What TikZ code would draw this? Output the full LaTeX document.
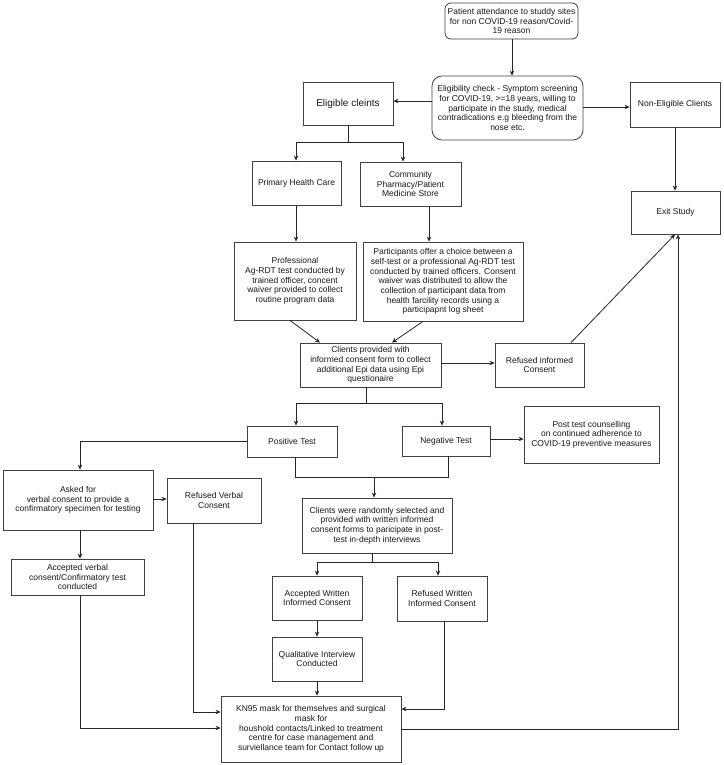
\documentclass[tikz,border=0pt]{standalone}
\usepackage{fontspec}
\setmainfont{Liberation Sans}
\usetikzlibrary{arrows.meta}
\begin{document}
\begin{tikzpicture}[x=1pt,y=-1pt,
  box/.style={draw=black!75, line width=0.8pt, fill=white, inner sep=1pt, align=center,
    font=\fontsize{8.5}{9.7}\selectfont, text=black!90},
  arr/.style={-{Stealth[length=5pt,width=4.5pt]}, line width=0.8pt, draw=black!85},
  ln/.style={line width=0.8pt, draw=black!85}]
\useasboundingbox[fill=white] (0,0) rectangle (723,765);

\node[box, rounded corners=6pt, minimum width=133pt, minimum height=36pt] (top) at (511.5,21)
  {Patient attendance to studdy sites\\for non COVID-19 reason/Covid-\\19 reason};
\node[box, rounded corners=10pt, minimum width=151pt, minimum height=64pt] (elig) at (507.5,108)
  {Eligibility check - Symptom screening\\for COVID-19, >=18 years, willing to\\participate in the study, medical\\contradications e.g bleeding from the\\nose etc.};
\node[box, font=\fontsize{10}{12}\selectfont, minimum width=90pt, minimum height=43pt] (elc) at (348,103.5) {Eligible cleints};
\node[box, minimum width=90pt, minimum height=45pt] (nonel) at (675,104.5) {Non-Eligible Clients};
\node[box, minimum width=89pt, minimum height=43pt] (exit) at (675.5,212.5) {Exit Study};
\node[box, minimum width=89pt, minimum height=44pt] (phc) at (296.5,183) {Primary Health Care};
\node[box, minimum width=101pt, minimum height=44pt] (cp) at (410.5,184) {Community\\Pharmacy/Patient\\Medicine Store};
\node[box, minimum width=122pt, minimum height=78pt] (prof) at (295,281)
  {Professional\\Ag-RDT test conducted by\\trained officer, concent\\waiver provided to collect\\routine program data};
\node[box, minimum width=160pt, minimum height=79pt] (part) at (443,281.5)
  {Participants offer a choice between a\\self-test or a professional Ag-RDT test\\conducted by trained officers. Consent\\waiver was distributed to allow the\\collection of participant data from\\health farcility records using a\\participapnt log sheet};
\node[box, minimum width=141pt, minimum height=44pt] (cpw) at (370.5,365)
  {Clients provided with\\informed consent form to collect\\additional Epi data using Epi\\questionaire};
\node[box, minimum width=89pt, minimum height=44pt] (refinf) at (539.5,365) {Refused informed\\Consent};
\node[box, minimum width=90pt, minimum height=31pt] (pos) at (292,441.5) {Positive Test};
\node[box, minimum width=88pt, minimum height=30pt] (neg) at (446,441) {Negative Test};
\node[box, minimum width=135pt, minimum height=57pt] (post) at (591.5,434.5)
  {Post test counselling\\on continued adherence to\\COVID-19 preventive measures};
\node[box, minimum width=150pt, minimum height=60pt] (asked) at (78,500)
  {Asked for\\verbal consent to provide a\\confirmatory specimen for testing};
\node[box, minimum width=94pt, minimum height=45pt] (refv) at (214,500.5) {Refused Verbal\\Consent};
\node[box, minimum width=150pt, minimum height=55pt] (crs) at (377,525.5)
  {Clients were randomly selected and\\provided with written informed\\consent forms to paricipate in post-\\test in-depth interviews};
\node[box, minimum width=133pt, minimum height=36pt] (accv) at (77.5,577)
  {Accepted verbal\\consent/Confirmatory test\\conducted};
\node[box, minimum width=90pt, minimum height=44pt] (accw) at (317,598) {Accepted Written\\Informed Consent};
\node[box, minimum width=90pt, minimum height=45pt] (refw) at (442,598.5) {Refused Written\\Informed Consent};
\node[box, minimum width=90pt, minimum height=44pt] (qual) at (317,659) {Qualitative Interview\\Conducted};
\node[box, minimum width=180pt, minimum height=66pt] (kn) at (311,729)
  {KN95 mask for themselves and surgical\\mask for\\houshold contacts/Linked to treatment\\centre for case management and\\surviellance team for Contact follow up};

\coordinate (j1) at (374,477);

\draw[arr] (top.south -| 512,0) -- (elig.north -| 512,0);
\draw[arr] (elig.west |- 0,101) -- (elc.east |- 0,101);
\draw[arr] (elig.east |- 0,107) -- (nonel.west |- 0,107);
\draw[arr] (nonel.south -| 675,0) -- (exit.north -| 675,0);
\draw[arr] (elc.south) -- (elc.south |- 0,142) -| (phc.north -| 296,0);
\draw[arr] (elc.south) -- (elc.south |- 0,142) -| (cp.north -| 403,0);
\draw[arr] (phc.south -| 296,0) -- (prof.north -| 296,0);
\draw[arr] (cp.south -| 429,0) -- (part.north -| 429,0);
\draw[arr] (prof.south -| 290,0) -- (cpw.north -| 320,0);
\draw[arr] (part.south -| 423,0) -- (cpw.north -| 392,0);
\draw[arr] (cpw.east |- 0,363) -- (refinf.west |- 0,363);
\draw[arr] (refinf.north -| 571,0) -- (exit.south -| 675,0);
\draw[arr] (cpw.south -| 366,0) -- ++(0,16) -| (pos.north -| 296,0);
\draw[arr] (cpw.south -| 366,0) -- ++(0,16) -| (neg.north -| 442,0);
\draw[arr] (neg.east |- 0,439) -- (post.west |- 0,439);
\draw[arr] (pos.west |- 0,441) -| (asked.north -| 80,0);
\draw[ln] (pos.south -| 295,0) -- ++(0,20) -| (neg.south -| 448,0);
\draw[arr] (j1) -- (crs.north -| 374,0);
\draw[arr] (asked.east |- 0,499) -- (refv.west |- 0,499);
\draw[arr] (asked.south -| 80,0) -- (accv.north -| 80,0);
\draw[arr] (accv.south -| 80,0) |- (kn.west |- 0,728);
\draw[arr] (refv.south -| 193,0) |- (kn.west |- 0,712);
\draw[arr] (crs.south -| 372,0) -- ++(0,9) -| (accw.north -| 317,0);
\draw[arr] (crs.south -| 372,0) -- ++(0,9) -| (refw.north -| 438,0);
\draw[arr] (accw.south -| 317,0) -- (qual.north -| 317,0);
\draw[arr] (qual.south -| 317,0) -- (kn.north -| 317,0);
\draw[arr] (refw.south -| 444,0) |- (kn.east |- 0,709);
\draw[arr] (kn.east |- 0,729) -| (exit.south -| 678,0);
\end{tikzpicture}
\end{document}
